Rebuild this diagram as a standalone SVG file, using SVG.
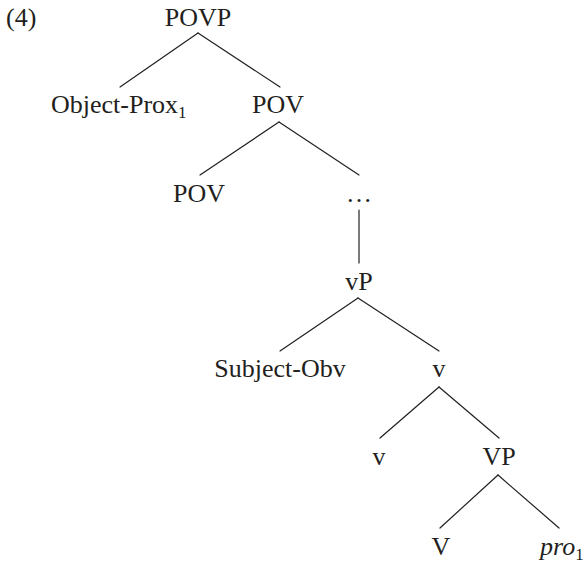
<svg xmlns="http://www.w3.org/2000/svg" width="585" height="563" viewBox="0 0 585 563">
  <style>
    .lbl { font-family: "Liberation Serif", "Times New Roman", serif; font-size: 26px; fill: #231f20; text-anchor: middle; }
    .sub { font-size: 17px; }
    .edge { stroke: #231f20; stroke-width: 1.2; fill: none; stroke-linecap: round; }
  </style>
  <rect width="585" height="563" fill="#ffffff"/>

  <text x="6" y="26" class="lbl" style="text-anchor:start">(4)</text>

  <g id="edges">
    <line class="edge" x1="198" y1="33" x2="120" y2="87"/>
    <line class="edge" x1="198" y1="33" x2="280" y2="87"/>
    <line class="edge" x1="279" y1="122" x2="200" y2="175"/>
    <line class="edge" x1="279" y1="122" x2="359" y2="175"/>
    <line class="edge" x1="359" y1="210" x2="359" y2="263"/>
    <line class="edge" x1="358" y1="298" x2="280" y2="351"/>
    <line class="edge" x1="358" y1="298" x2="439" y2="351"/>
    <line class="edge" x1="439" y1="387" x2="380" y2="438"/>
    <line class="edge" x1="439" y1="387" x2="499" y2="438"/>
    <line class="edge" x1="498" y1="475" x2="440" y2="528"/>
    <line class="edge" x1="498" y1="475" x2="559" y2="528"/>
  </g>

  <g id="povp"><text x="198" y="26" class="lbl">POVP</text></g>
  <g id="object-prox"><text x="51" y="113" class="lbl" style="text-anchor:start">Object-Prox<tspan class="sub" dy="5">1</tspan></text></g>
  <g id="pov-bar"><text x="278" y="113" class="lbl">POV</text></g>
  <g id="pov-head"><text x="199" y="202" class="lbl">POV</text></g>
  <g id="ellipsis"><text x="359" y="202" class="lbl">…</text></g>
  <g id="vp-little"><text x="359" y="290" class="lbl">vP</text></g>
  <g id="subject-obv"><text x="280" y="377" class="lbl">Subject-Obv</text></g>
  <g id="v-bar"><text x="439" y="377" class="lbl">v</text></g>
  <g id="v-head"><text x="379" y="465" class="lbl">v</text></g>
  <g id="vp-big"><text x="499" y="465" class="lbl">VP</text></g>
  <g id="v-verb"><text x="441" y="555" class="lbl">V</text></g>
  <g id="pro"><text x="540" y="555" class="lbl" style="text-anchor:start;font-style:italic">pro<tspan class="sub" dy="5" style="font-style:normal">1</tspan></text></g>
</svg>
